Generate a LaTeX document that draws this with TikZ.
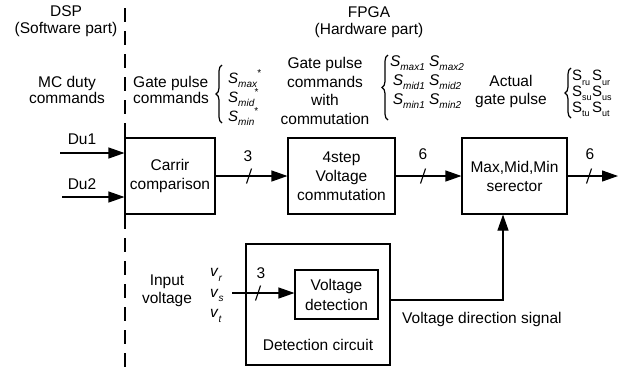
\documentclass[tikz,border=0pt]{standalone}
\usepackage{fontspec}
\setmainfont{Liberation Sans}
\usetikzlibrary{arrows.meta,decorations.pathreplacing}
\newcommand\lsub[1]{\raisebox{-0.28em}{\fontsize{10}{10}\selectfont #1}}
\newcommand\lsup[1]{\raisebox{0.45em}{\fontsize{10}{10}\selectfont #1}}
\newcommand\Ssub[2]{\textit{S}\lsub{\textit{#1}}#2}
\newcommand\Ssr[1]{S\lsub{\fontsize{9}{9}\selectfont #1}}
\newcommand\vsub[1]{\textit{v}\lsub{\textit{#1}}}
\tikzset{
  txt/.style={inner sep=0pt, align=center, font=\fontsize{15.5}{18}\selectfont},
  blk/.style={draw, line width=1.1pt, inner sep=0pt, align=center, font=\fontsize{15.5}{19}\selectfont},
  arr/.style={line width=1.1pt, -{Triangle[length=16pt,width=11pt]}},
  slashline/.style={line width=1.1pt},
  brc/.style={decorate, decoration={brace, amplitude=6pt}, line width=1.2pt},
  sepline/.style={line width=1.1pt, dash pattern=on 14pt off 9pt},
  busmark/.pic={\draw[slashline] (-2.5,7.5) -- (2.5,-7.5);}
}
\begin{document}
\begin{tikzpicture}[x=1pt,y=-1pt]
\useasboundingbox (0,0) rectangle (632,368);
% separator
\coordinate (septop) at (125,8);
\coordinate (sepbot) at (125,368);
\draw[sepline] (septop) -- (sepbot);
% headers
\node[txt, font=\fontsize{15.5}{17}\selectfont] (dsp) at (66,21.5) {DSP\\(Software part)};
\node[txt, font=\fontsize{15.5}{17}\selectfont] (fpga) at (369,22.5) {FPGA\\(Hardware part)};
\node[txt, font=\fontsize{15.5}{16.5}\selectfont] (mc) at (67,90) {MC duty\\commands};
\node[txt, align=left, anchor=west, font=\fontsize{15.5}{16.5}\selectfont] (gp1) at (133,90) {Gate pulse\\commands};
\draw[brc] (222,123) -- (222,65);
\node[txt, align=left, anchor=west, font=\fontsize{15}{15.5}\selectfont] (s1) at (228,97.5) {\Ssub{max}{\lsup{*}}\\\Ssub{mid}{\lsup{*}}\\\Ssub{min}{\lsup{*}}};
\node[txt, font=\fontsize{15.5}{18.5}\selectfont] (gp2) at (325,91) {Gate pulse\\commands\\with\\commutation};
\draw[brc] (388,120) -- (388,55);
\node[txt, font=\fontsize{15.5}{19}\selectfont] (s2) at (427,82) {\Ssub{max1}{} \Ssub{max2}{}\\\Ssub{mid1}{} \Ssub{mid2}{}\\\Ssub{min1}{} \Ssub{min2}{}};
\node[txt] (act) at (511,91) {Actual\\gate pulse};
\draw[brc] (571,118) -- (571,68);
\node[txt, align=left, anchor=west, font=\fontsize{15}{13.5}\selectfont] (s3a) at (572,93.5) {\Ssr{ru}\\\Ssr{su}\\\Ssr{tu}};
\node[txt, align=left, anchor=west, font=\fontsize{15}{13.5}\selectfont] (s3b) at (592,93.5) {\Ssr{ur}\\\Ssr{us}\\\Ssr{ut}};
% blocks
\node[blk, minimum width=90pt, minimum height=76pt] (carrir) at (170,176) {Carrir\\comparison};
\node[blk, minimum width=107pt, minimum height=76pt] (step4) at (341.5,176) {4step\\Voltage\\commutation};
\node[blk, minimum width=105pt, minimum height=76pt] (maxb) at (514.5,176) {Max,Mid,Min\\serector};
\node[blk, minimum width=144pt, minimum height=121pt] (det) at (318,304.5) {};
\node[blk, minimum width=83pt, minimum height=49pt, font=\fontsize{15.5}{20}\selectfont] (vdet) at (336.5,294.5) {Voltage\\detection};
\node[txt] (detlab) at (318,345) {Detection circuit};
% inputs
\node[txt] (du1l) at (82,139) {Du1};
\node[txt] (du2l) at (82,184) {Du2};
\coordinate (du1s) at (60,153);
\coordinate (du2s) at (62,197);
\draw[arr] (du1s) -- (du1s -| carrir.west);
\draw[arr] (du2s) -- (du2s -| carrir.west);
% chain
\draw[arr] (carrir.east) -- (step4.west);
\pic at (249,176) {busmark};
\node[txt] (n3a) at (248,156) {3};
\draw[arr] (step4.east) -- (maxb.west);
\pic at (423,176) {busmark};
\node[txt] (n6a) at (423,154) {6};
\coordinate (outend) at (618,176);
\draw[arr] (maxb.east) -- (outend);
\pic at (589,176) {busmark};
\node[txt] (n6b) at (590,154) {6};
% input voltage
\node[txt] (inv) at (167,291) {Input\\voltage};
\node[txt, align=left, anchor=west, font=\fontsize{15.5}{20.5}\selectfont] (vrst) at (210,295.5) {\vsub{r}\\\vsub{s}\\\vsub{t}};
\coordinate (vin) at (232,293);
\draw[arr] (vin) -- (vin -| vdet.west);
\pic at (258,293) {busmark};
\node[txt] (n3b) at (261,273) {3};
% direction signal
\coordinate (vds) at (503,300);
\draw[arr] (det.east |- vds) -- (vds) -- (vds |- maxb.south);
\node[txt, anchor=west] (vdsl) at (402,319) {Voltage direction signal};
\end{tikzpicture}
\end{document}
